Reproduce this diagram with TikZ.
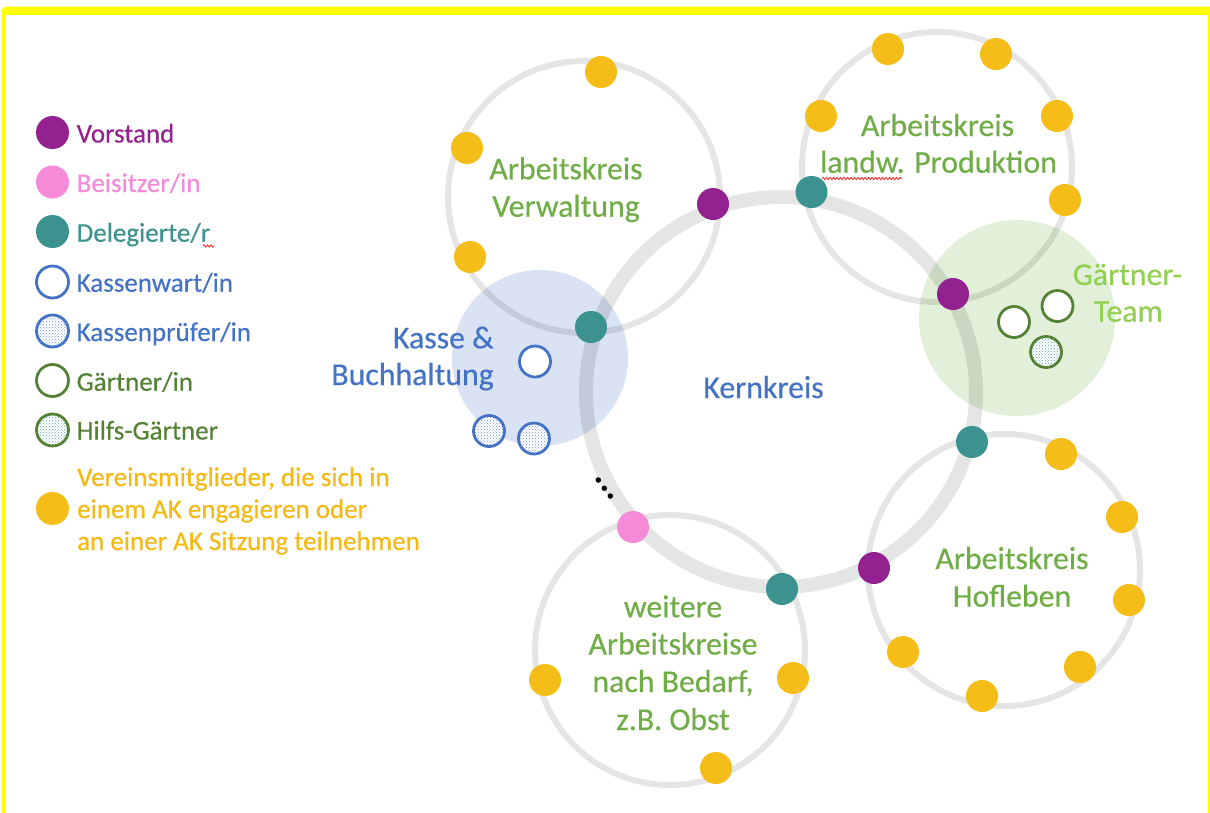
\documentclass[tikz,border=0pt]{standalone}
\usepackage{fontspec}
\setmainfont{Carlito}[FakeBold=0.35]
\usetikzlibrary{patterns,decorations.pathmorphing}
\definecolor{cyel}{HTML}{F4BD18}
\definecolor{cpur}{HTML}{93218F}
\definecolor{cpink}{HTML}{F48AD8}
\definecolor{cteal}{HTML}{3B928F}
\definecolor{cblue}{HTML}{4472C4}
\definecolor{cdgreen}{HTML}{548235}
\definecolor{cgreen}{HTML}{70AD47}
\definecolor{clgreen}{HTML}{92D050}
\definecolor{fblue}{HTML}{DAE3F3}
\definecolor{fgreen}{HTML}{E2F0D9}
\definecolor{ctyel}{HTML}{F5B912}
\definecolor{frameyel}{HTML}{FFFF00}
\begin{document}
\begin{tikzpicture}[x=1pt,y=-1pt,
  ringline/.style={circle, draw=black, draw opacity=0.1, line width=6, inner sep=0pt},
  corering/.style={ringline, line width=14},
  blob/.style={circle, inner sep=0pt, minimum size=32},
  member/.style={blob, fill=cyel},
  vorst/.style={blob, fill=cpur},
  beis/.style={blob, fill=cpink},
  deleg/.style={blob, fill=cteal},
  kwart/.style={circle, inner sep=0pt, minimum size=31, draw=cblue, line width=2.8, fill=white},
  kpruef/.style={kwart, preaction={fill=white}, pattern=crosshatch dots, pattern color=cblue!75},
  gaert/.style={circle, inner sep=0pt, minimum size=31, draw=cdgreen, line width=2.8, fill=white},
  hgaert/.style={gaert, preaction={fill=white}, pattern=crosshatch dots, pattern color=cteal!80},
  lbl/.style={font=\fontsize{31.8}{37}\selectfont, inner sep=0pt, anchor=base},
  leg/.style={font=\fontsize{27}{32}\selectfont, inner sep=0pt, anchor=base west},
  squig/.style={draw=red!85, line width=0.8, decorate, decoration={snake, amplitude=1.2, segment length=3.5}},
  tinydot/.style={circle, fill=black, inner sep=0pt, minimum size=5.5}
]
\useasboundingbox (0,0) rectangle (1210,812);
% frame
\fill[frameyel, rounded corners=4] (1.7,830) rectangle (1215,6.7);
\fill[white] (5.7,830) rectangle (1207.7,15);

% filled team areas
\node[circle, fill=fblue, inner sep=0pt, minimum size=176] (kasse) at (540,358) {};
\node[circle, fill=fgreen, inner sep=0pt, minimum size=196] (gteam) at (1017,318) {};

% rings
\node[corering, minimum size=390] (kern) at (781,392) {};
\node[ringline, minimum size=272] (verw) at (584,197) {};
\node[ringline, minimum size=270] (landw) at (937,167) {};
\node[ringline, minimum size=272] (hof) at (1004,570) {};
\node[ringline, minimum size=270] (weit) at (670,650) {};

% labels
\node[lbl, text=cgreen] (verwA) at (566,179.3) {Arbeitskreis};
\node[lbl, text=cgreen] (verwB) at (566,216.7) {Verwaltung};
\node[lbl, text=cgreen] (landwA) at (937.5,136) {Arbeitskreis};
\node[lbl, text=cgreen] (landwB) at (938.5,172.7) {landw. Produktion};
\node[lbl, text=clgreen] (gtA) at (1127.5,285) {Gärtner-};
\node[lbl, text=clgreen] (gtB) at (1128.3,321.7) {Team};
\node[lbl, text=cblue, anchor=base east] (kaA) at (494,348.3) {Kasse \&};
\node[lbl, text=cblue, anchor=base east] (kaB) at (494,385) {Buchhaltung};
\node[lbl, text=cblue] (kernT) at (763.5,398) {Kernkreis};
\node[lbl, text=cgreen] (hofA) at (1012,569) {Arbeitskreis};
\node[lbl, text=cgreen] (hofB) at (1012,606.7) {Hofleben};
\node[lbl, text=cgreen] (weitA) at (673,617.3) {weitere};
\node[lbl, text=cgreen] (weitB) at (673,654.5) {Arbeitskreise};
\node[lbl, text=cgreen] (weitC) at (673,692) {nach Bedarf,};
\node[lbl, text=cgreen] (weitD) at (673,730) {z.B. Obst};

% spell-check underline
\coordinate (sq1a) at (822,178.5);
\coordinate (sq1b) at (902,178.5);
\draw[squig] (sq1a) -- (sq1b);

% ellipsis
\node[tinydot] (e1) at (598.3,480) {};
\node[tinydot] (e2) at (604.3,488.3) {};
\node[tinydot] (e3) at (610.3,496) {};

% members Verwaltung
\node[member] (v1) at (601,72) {};
\node[member] (v2) at (467,148) {};
\node[member] (v3) at (470,257) {};
% members landw
\node[member] (l1) at (888,49) {};
\node[member] (l2) at (996,54) {};
\node[member] (l3) at (1057,116) {};
\node[member] (l4) at (1065,200) {};
\node[member] (l5) at (821,116) {};
% members Hofleben
\node[member] (h1) at (1061,454) {};
\node[member] (h2) at (1122,517) {};
\node[member] (h3) at (1129,600) {};
\node[member] (h4) at (1080,667) {};
\node[member] (h5) at (982,696) {};
\node[member] (h6) at (903,652) {};
% members weitere
\node[member] (w1) at (793,678) {};
\node[member] (w2) at (716,768) {};
\node[member] (w3) at (545,680) {};

% Vorstand / Delegierte / Beisitzer
\node[vorst] (pv1) at (713,204) {};
\node[vorst] (pv2) at (953,294) {};
\node[vorst] (pv3) at (874,568) {};
\node[deleg] (d1) at (811.5,192) {};
\node[deleg] (d2) at (591,327) {};
\node[deleg] (d3) at (972,442) {};
\node[deleg] (d4) at (782,589) {};
\node[beis] (b1) at (633,527) {};

% Kasse members
\node[kwart] (kw) at (535,361.5) {};
\node[kpruef] (kp1) at (489,431) {};
\node[kpruef] (kp2) at (534,438.5) {};
% Gaertner
\node[gaert] (g1) at (1014,322) {};
\node[gaert] (g2) at (1057.5,306) {};
\node[hgaert] (g3) at (1046,352) {};

% legend
\node[vorst, minimum size=33] (lg1) at (52.5,132.5) {};
\node[leg, text=cpur] (lt1) at (76.5,142.5) {Vorstand};
\node[beis, minimum size=33] (lg2) at (52.5,182) {};
\node[leg, text=cpink] (lt2) at (76.5,192) {Beisitzer/in};
\node[deleg, minimum size=33] (lg3) at (52.5,231.5) {};
\node[leg, text=cteal] (lt3) at (76.5,241.7) {Delegierte/r};
\node[kwart, minimum size=32] (lg4) at (52.5,282) {};
\node[leg, text=cblue] (lt4) at (76.5,291.7) {Kassenwart/in};
\node[kpruef, minimum size=32] (lg5) at (52.5,331) {};
\node[leg, text=cblue] (lt5) at (76.5,341) {Kassenprüfer/in};
\node[gaert, minimum size=32] (lg6) at (52.5,380.5) {};
\node[leg, text=cdgreen] (lt6) at (76.5,390.7) {Gärtner/in};
\node[hgaert, minimum size=32] (lg7) at (52.5,430) {};
\node[leg, text=cdgreen] (lt7) at (76.5,439.5) {Hilfs-Gärtner};
\node[member, minimum size=33] (lg8) at (52.5,508.5) {};
\node[leg, text=ctyel] (lt8a) at (77,486) {Vereinsmitglieder, die sich in};
\node[leg, text=ctyel] (lt8b) at (77,518) {einem AK engagieren oder};
\node[leg, text=ctyel] (lt8c) at (77,550) {an einer AK Sitzung teilnehmen};

\coordinate (sq2a) at (203,246);
\coordinate (sq2b) at (214,246);
\draw[squig] (sq2a) -- (sq2b);
\end{tikzpicture}
\end{document}
